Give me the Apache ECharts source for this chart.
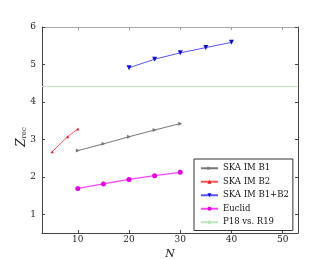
<!DOCTYPE html>
<html><head><meta charset="utf-8">
<script src="https://cdn.jsdelivr.net/npm/echarts@6/dist/echarts.min.js"></script>
<style>html,body{margin:0;padding:0;background:#fff}#c{width:332px;height:259px}</style>
</head><body><div id="c"></div>
<script>
const b1X = [10, 15, 20, 25, 30];
const b1Y = [2.70, 2.88, 3.07, 3.25, 3.42];
const b2X = [5, 8, 10];
const b2Y = [2.67, 3.07, 3.28];
const b12X = [20, 25, 30, 35, 40];
const b12Y = [4.91, 5.14, 5.31, 5.45, 5.59];
const euclidX = [10, 15, 20, 25, 30];
const euclidY = [1.69, 1.81, 1.93, 2.03, 2.12];
const p18Value = 4.41;
const xTicks = [10, 20, 30, 40, 50];
const yTicks = [1, 2, 3, 4, 5, 6];
const seriesNames = ['SKA IM B1', 'SKA IM B2', 'SKA IM B1+B2', 'Euclid', 'P18 vs. R19'];

const zip = (xs, ys) => xs.map((x, i) => [x, ys[i]]);
const serif = 'DejaVu Serif';
const axisCol = '#444';

const chart = echarts.init(document.getElementById('c'), null, {renderer: 'canvas'});
chart.setOption({
  animation: false,
  backgroundColor: '#fff',
  grid: {left: 42, right: 34, top: 27, bottom: 26, containLabel: false, outerBoundsMode: 'none'},
  xAxis: [{
    type: 'value', min: 3, max: 53,
    axisLabel: {fontFamily: serif, fontSize: 9, color: '#222', margin: 2, customValues: xTicks},
    axisLine: {onZero: false, lineStyle: {color: axisCol, width: 1}},
    axisTick: {inside: true, length: 3, lineStyle: {color: axisCol}, customValues: xTicks},
    splitLine: {show: false},
    name: 'N', nameLocation: 'middle', nameGap: 11,
    nameTextStyle: {fontFamily: serif, fontStyle: 'italic', fontSize: 11, color: '#222'}
  }, {
    type: 'value', position: 'top', min: 3, max: 53,
    axisLabel: {show: false},
    axisLine: {onZero: false, lineStyle: {color: '#aaa', width: 1}},
    axisTick: {inside: true, length: 3, lineStyle: {color: '#999'}, customValues: xTicks},
    splitLine: {show: false}
  }],
  yAxis: [{
    type: 'value', min: 0.5, max: 6,
    axisLabel: {fontFamily: serif, fontSize: 9, color: '#222', margin: 6, customValues: yTicks},
    axisLine: {onZero: false, lineStyle: {color: axisCol, width: 1}},
    axisTick: {inside: true, length: 3, lineStyle: {color: axisCol}, customValues: yTicks},
    splitLine: {show: false},
    name: '{z|Z}{s|rec}', nameLocation: 'middle', nameGap: 14, nameMoveOverlap: false,
    nameTextStyle: {padding: [0, 14, 0, 0], rich: {
      z: {fontFamily: serif, fontStyle: 'italic', fontSize: 12, color: '#222'},
      s: {fontFamily: serif, fontSize: 7, color: '#222', verticalAlign: 'bottom', padding: [6, 0, 0, 0]}
    }}
  }, {
    type: 'value', position: 'right', min: 0.5, max: 6,
    axisLabel: {show: false},
    axisLine: {onZero: false, lineStyle: {color: axisCol, width: 1}},
    axisTick: {inside: true, length: 3, lineStyle: {color: axisCol}, customValues: yTicks},
    splitLine: {show: false}
  }],
  legend: {
    orient: 'vertical', left: 194, top: 159,
    padding: [4, 4, 3, 6], itemGap: 3, itemWidth: 17, itemHeight: 5,
    borderColor: '#333', borderWidth: 1, backgroundColor: '#fff', borderRadius: 0,
    textStyle: {fontFamily: serif, fontSize: 8.5, color: '#111', lineHeight: 10.5},
    data: seriesNames
  },
  series: [
    {name: seriesNames[0], type: 'line', data: zip(b1X, b1Y), symbol: 'path://M0,0L10,5L0,10M10,5L0,5', symbolSize: 4,
      color: '#777', lineStyle: {width: 1, color: '#777'}, itemStyle: {color: '#777'}},
    {name: seriesNames[1], type: 'line', data: zip(b2X, b2Y), symbol: 'triangle', symbolSize: 3,
      color: '#e33', lineStyle: {width: 1, color: '#f55'}, itemStyle: {color: '#c22'}},
    {name: seriesNames[2], type: 'line', data: zip(b12X, b12Y), symbol: 'triangle', symbolRotate: 180, symbolSize: 5,
      color: '#22e', lineStyle: {width: 1, color: '#55f'}, itemStyle: {color: '#11c'}},
    {name: seriesNames[3], type: 'line', data: zip(euclidX, euclidY), symbol: 'circle', symbolSize: 5,
      color: '#e0e', lineStyle: {width: 1.2, color: '#f4f'}, itemStyle: {color: '#d0d'}},
    {name: seriesNames[4], type: 'line', data: [], color: '#bde6bd',
      lineStyle: {width: 1, color: '#bde6bd'}, itemStyle: {color: '#bde6bd'}, symbol: 'none',
      markLine: {silent: true, symbol: 'none', label: {show: false},
        lineStyle: {color: '#bde6bd', width: 1, type: 'solid'},
        data: [{yAxis: p18Value}]}}
  ]
});
</script></body></html>
